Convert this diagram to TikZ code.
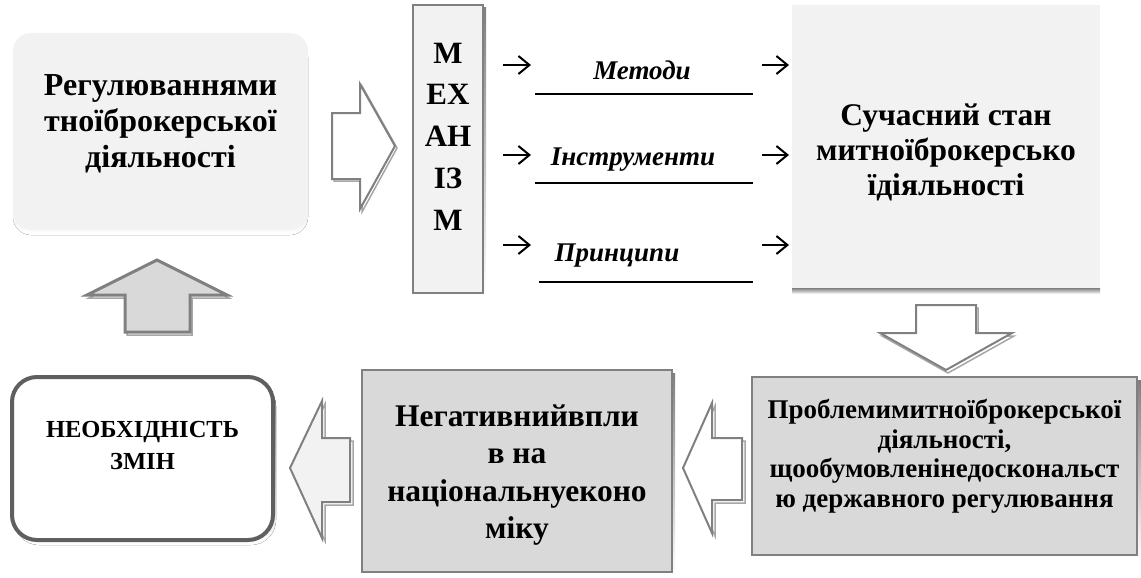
\documentclass[tikz,border=0pt]{standalone}
\usepackage{fontspec}
\setmainfont{Liberation Serif}
\usetikzlibrary{arrows.meta}
\definecolor{lightf}{HTML}{F2F2F2}
\definecolor{midf}{HTML}{D9D9D9}
\definecolor{edgegray}{HTML}{808080}
\definecolor{darkedge}{HTML}{5F5F5F}
\definecolor{shade}{HTML}{A6A6A6}
\begin{document}
\begin{tikzpicture}[x=1pt,y=-1pt,
  bigtxt/.style={font=\fontsize{32}{36}\selectfont\bfseries, align=center, inner sep=0pt},
  midtxt/.style={font=\fontsize{27}{29.5}\selectfont\bfseries, align=center, inner sep=0pt},
  smalltxt/.style={font=\fontsize{24.5}{32}\selectfont\bfseries, align=center, inner sep=0pt},
  labtxt/.style={font=\fontsize{27}{30}\selectfont\bfseries\itshape, inner sep=0pt},
  smallarrow/.style={-{Straight Barb[length=11pt,width=18pt,line width=2pt]}, line width=2pt},
  blockarrow/.style={draw=edgegray, line width=2pt, line join=miter},
  arrowshadow/.style={draw=shade, line width=1.5pt},
  uline/.style={line width=1.6pt}
]
\useasboundingbox (0,0) rectangle (1141,578);

% ---------- top-left rounded box ----------
\fill[shade, rounded corners=18pt] (13,39) rectangle (308,235);
\node[fill=lightf, rounded corners=18pt, minimum width=295pt, minimum height=197pt, inner sep=0pt] (reg) at (160.5,131.5) {};
\node[bigtxt] (regt) at ([yshift=8pt]reg.center) {Регулюваннями\\тноїброкерської\\діяльності};

% ---------- right block arrow ----------
\draw[arrowshadow] (334,115) -- (362,115) -- (362,86) -- (397,148) -- (362,212) -- (362,181) -- (334,181) -- cycle;
\draw[blockarrow, fill=white] (332,113) -- (360,113) -- (360,84) -- (395,146) -- (360,209) -- (360,179) -- (332,179) -- cycle;

% ---------- MEXAHIZM box ----------
\fill[shade] (415,8) rectangle (486,296);
\node[draw=edgegray, line width=2pt, fill=lightf, minimum width=70pt, minimum height=288pt, inner sep=0pt] (mech) at (448,149) {};
\node[bigtxt, font=\fontsize{31}{41.7}\selectfont\bfseries] (mecht) at ([yshift=12.5pt]mech.center) {М\\ЕХ\\АН\\ІЗ\\М};

% ---------- top-right box ----------
\node[fill=lightf, minimum width=308pt, minimum height=288pt, inner sep=0pt] (stan) at (946,149) {};
\fill[shade] (792,288) rectangle (1100,294);
\node[bigtxt, font=\fontsize{31.5}{35}\selectfont\bfseries] (stant) at ([yshift=-3pt]stan.center) {Сучасний стан\\митноїброкерсько\\їдіяльності};

% ---------- labels, lines and small arrows ----------
\node[labtxt] (l1) at (642,70) {Методи};
\node[labtxt] (l2) at (633,160) {Інструменти};
\node[labtxt] (l3) at (617,256) {Принципи};
\coordinate (u1a) at (535,94);  \coordinate (u1b) at (753,94);
\coordinate (u2a) at (535,183); \coordinate (u2b) at (753,183);
\coordinate (u3a) at (539,282); \coordinate (u3b) at (753,282);
\draw[uline] (u1a) -- (u1b);
\draw[uline] (u2a) -- (u2b);
\draw[uline] (u3a) -- (u3b);
\coordinate (a1s) at (503,65);  \coordinate (a1e) at (531,65);
\coordinate (a2s) at (503,155); \coordinate (a2e) at (531,155);
\coordinate (a3s) at (503,245); \coordinate (a3e) at (531,245);
\coordinate (b1s) at (762,65);  \coordinate (b1e) at (789,65);
\coordinate (b2s) at (762,155); \coordinate (b2e) at (789,155);
\coordinate (b3s) at (762,245); \coordinate (b3e) at (789,245);
\draw[smallarrow] (a1s) -- (a1e);
\draw[smallarrow] (a2s) -- (a2e);
\draw[smallarrow] (a3s) -- (a3e);
\draw[smallarrow] (b1s) -- (b1e);
\draw[smallarrow] (b2s) -- (b2e);
\draw[smallarrow] (b3s) -- (b3e);

% ---------- down block arrow ----------
\draw[arrowshadow] (918,308) -- (978,308) -- (978,336) -- (1014,336) -- (948,373) -- (882,336) -- (918,336) -- cycle;
\draw[blockarrow, fill=white] (916,305) -- (976,305) -- (976,333) -- (1012,333) -- (946,370) -- (880,333) -- (916,333) -- cycle;

% ---------- bottom-right box ----------
\fill[shade] (755,380) rectangle (1141,559);
\node[draw=edgegray, line width=2.5pt, fill=midf, minimum width=385pt, minimum height=178pt, inner sep=0pt] (probl) at (944.5,466) {};
\node[midtxt] (problt) at ([yshift=10pt]probl.center) {Проблемимитноїброкерської\\діяльності,\\щообумовленінедоскональст\\ю державного регулювання};

% ---------- left block arrow (right -> middle) ----------
\draw[arrowshadow] (745,441) -- (715,441) -- (715,406) -- (686,471) -- (715,536) -- (715,503) -- (745,503) -- cycle;
\draw[blockarrow, fill=white] (742,438) -- (712,438) -- (712,403) -- (683,468) -- (712,533) -- (712,500) -- (742,500) -- cycle;

% ---------- bottom-middle box ----------
\fill[shade] (365,373) rectangle (675,576);
\node[draw=edgegray, line width=2.5pt, fill=midf, minimum width=310pt, minimum height=202pt, inner sep=0pt] (neg) at (517,471) {};
\node[bigtxt, font=\fontsize{31.5}{37.3}\selectfont\bfseries] (negt) at ([yshift=-4pt]neg.center) {Негативнийвпли\\в на\\національнуеконо\\міку};

% ---------- left block arrow (middle -> left) ----------
\draw[arrowshadow] (353,441) -- (325,441) -- (325,404) -- (293,471) -- (325,541) -- (325,505) -- (353,505) -- cycle;
\draw[blockarrow, fill=lightf] (350,438) -- (322,438) -- (322,401) -- (290,468) -- (322,538) -- (322,502) -- (350,502) -- cycle;

% ---------- bottom-left rounded box ----------
\fill[shade, rounded corners=25pt] (14,381) rectangle (276,545);
\node[draw=darkedge, line width=4pt, fill=white, rounded corners=25pt, minimum width=261pt, minimum height=163pt, inner sep=0pt] (neobh) at (142.5,458.5) {};
\node[smalltxt] (neobht) at ([yshift=12.5pt]neobh.center) {НЕОБХІДНІСТЬ\\ЗМІН};

% ---------- up block arrow ----------
\draw[arrowshadow] (127,335) -- (192,335) -- (192,298) -- (229,298) -- (159,263) -- (89,298) -- (127,298) -- cycle;
\draw[draw=edgegray, line width=3pt, fill=midf] (125,332) -- (190,332) -- (190,295) -- (227,295) -- (157,260) -- (87,295) -- (125,295) -- cycle;

\end{tikzpicture}
\end{document}
